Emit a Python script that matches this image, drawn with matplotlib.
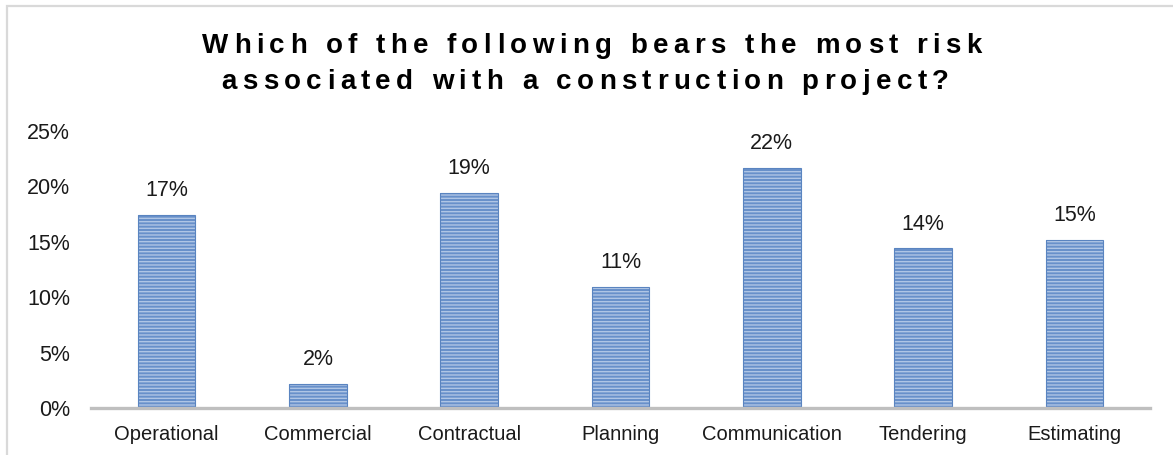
import matplotlib
matplotlib.use("Agg")
import matplotlib.pyplot as plt
from matplotlib.patches import Rectangle
from matplotlib.font_manager import FontProperties, findfont
from matplotlib.ft2font import FT2Font
from matplotlib.ticker import PercentFormatter

categories = ["Operational", "Commercial", "Contractual", "Planning",
              "Communication", "Tendering", "Estimating"]
shares = [17.4, 2.2, 19.4, 10.9, 21.7, 14.4, 15.2]
yticks = [0, 5, 10, 15, 20, 25]
title_lines = ["Which of the following bears the most risk",
               "associated with a construction project?"]

plt.rcParams["font.family"] = ["Liberation Sans", "DejaVu Sans"]
plt.rcParams["hatch.linewidth"] = 1.0

W, H, DPI = 1173, 455, 100
fig = plt.figure(figsize=(W / DPI, H / DPI), dpi=DPI)
ax = fig.add_axes([91 / W, 1 - 408 / H, (1150 - 91) / W, (408 - 131) / H])

x = range(len(categories))
ax.bar(x, shares, width=0.38, color="#6890CA", edgecolor="#AFC5E5",
       linewidth=0, hatch="-----", zorder=2)
ax.bar(x, shares, width=0.38, fill=False, edgecolor="#5A84C0",
       linewidth=0.8, zorder=3)

for xi, v in zip(x, shares):
    ax.annotate(f"{v:.0f}%", (xi, v), xytext=(0, 10), textcoords="offset points",
                ha="center", va="bottom", fontsize=15.5, color="#1a1a1a")

ax.set_xlim(-0.5, len(categories) - 0.5)
ax.set_ylim(0, 25)
ax.set_yticks(yticks)
ax.yaxis.set_major_formatter(PercentFormatter(decimals=0))
ax.set_xticks(list(x))
ax.set_xticklabels(categories)
ax.tick_params(axis="both", length=0, colors="#1a1a1a")
ax.tick_params(axis="y", pad=15, labelsize=15.5)
ax.tick_params(axis="x", pad=12, labelsize=14.5)
for side in ("top", "right", "left"):
    ax.spines[side].set_visible(False)
ax.spines["bottom"].set_color("#BFBFBF")
ax.spines["bottom"].set_linewidth(2.4)
ax.spines["bottom"].set_zorder(4)

# chart frame
fig.patches.append(Rectangle((7 / W, -0.05), 1.1, 1 - 6 / H + 0.05,
                             transform=fig.transFigure, fill=False,
                             edgecolor="#D9D9D9", linewidth=1.6))

# letter-spaced bold title, laid out glyph by glyph
TITLE_PT = 20
tprop = FontProperties(family="Liberation Sans", weight="bold", size=TITLE_PT)
font = FT2Font(findfont(tprop))
font.set_size(TITLE_PT, DPI)
tracking = 5.4


def spaced_line(text, cx, baseline_y):
    advs = [font.load_char(ord(c)).linearHoriAdvance / 65536.0 for c in text]
    total = sum(advs) + tracking * (len(text) - 1)
    pos = cx - total / 2
    for c, a in zip(text, advs):
        if c != " ":
            fig.text(pos / W, 1 - baseline_y / H, c, fontproperties=tprop,
                     ha="left", va="baseline", color="black")
        pos += a + tracking


spaced_line(title_lines[0], 592, 53)
spaced_line(title_lines[1], 585, 89)

fig.savefig("out.png", dpi=DPI)
